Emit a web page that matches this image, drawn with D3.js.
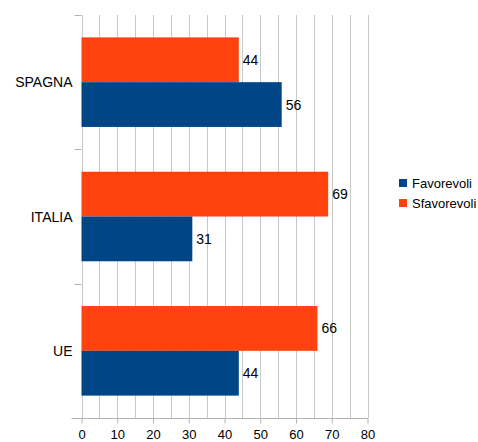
<!DOCTYPE html>
<html>
<head>
<meta charset="utf-8">
<script src="https://cdn.jsdelivr.net/npm/d3@7"></script>
<style>
  body { margin: 0; background: #fff; }
  text { font-family: "Liberation Sans", Arial, sans-serif; }
</style>
</head>
<body>
<div id="chart"></div>
<script>
var categories = ['SPAGNA', 'ITALIA', 'UE'];
var favorevoli = [56, 31, 44];
var sfavorevoli = [44, 69, 66];
var seriesNames = ['Favorevoli', 'Sfavorevoli'];
var xTicks = [0, 10, 20, 30, 40, 50, 60, 70, 80];

var svgWidth = 478;
var svgHeight = 442;
var plotLeft = 81.5, plotRight = 367.5, plotTop = 15, plotBottom = 418;

var svg = d3.select('#chart')
  .append('svg')
  .attr('width', svgWidth)
  .attr('height', svgHeight);

var xScale = d3.scaleLinear()
  .domain([0, 80])
  .range([plotLeft, plotRight]);

var yScale = d3.scaleBand()
  .domain(categories)
  .range([plotTop, plotBottom])
  .paddingInner(0)
  .paddingOuter(0);

var inner = d3.scaleBand()
  .domain(['Sfavorevoli', 'Favorevoli'])
  .range([0, yScale.bandwidth()])
  .paddingOuter(0.5)
  .paddingInner(0);

// vertical grid every 5
var grid = d3.range(0, 81, 5);
svg.append('g')
  .selectAll('line')
  .data(grid)
  .enter()
  .append('line')
  .attr('x1', d => Math.round(xScale(d)) + 0.5)
  .attr('x2', d => Math.round(xScale(d)) + 0.5)
  .attr('y1', plotTop)
  .attr('y2', plotBottom)
  .attr('stroke', '#c8c8c8')
  .attr('stroke-width', 1);

// category ticks on the left
var bounds = [0, 1, 2, 3].map(i => plotTop + i * yScale.bandwidth());
svg.append('g')
  .selectAll('line')
  .data(bounds)
  .enter()
  .append('line')
  .attr('x1', plotLeft - 7)
  .attr('x2', plotLeft)
  .attr('y1', d => Math.round(d) + 0.5)
  .attr('y2', d => Math.round(d) + 0.5)
  .attr('stroke', '#b3b3b3');

// bottom axis
var xAxis = svg.append('g')
  .attr('transform', 'translate(0,' + (plotBottom + 0.5) + ')')
  .call(d3.axisBottom(xScale).tickValues(xTicks).tickSize(5).tickSizeOuter(0));
xAxis.select('.domain').attr('stroke', '#b3b3b3').attr('d', 'M' + (plotLeft - 10) + ',0H' + (plotRight + 0.5));
xAxis.selectAll('.tick line').attr('stroke', '#b3b3b3');
xAxis.selectAll('.tick text')
  .attr('fill', '#000')
  .attr('font-size', '13px')
  .attr('y', 11)
  .attr('font-family', '"Liberation Sans", Arial, sans-serif');

// category labels
svg.append('g')
  .selectAll('text')
  .data(categories)
  .enter()
  .append('text')
  .attr('x', plotLeft - 9)
  .attr('y', d => yScale(d) + yScale.bandwidth() / 2 + 5)
  .attr('text-anchor', 'end')
  .attr('font-size', '14px')
  .text(d => d);

var colors = { Favorevoli: '#004586', Sfavorevoli: '#ff420e' };
var rows = [];
categories.forEach(function (c, i) {
  rows.push({ cat: c, series: 'Sfavorevoli', value: sfavorevoli[i] });
  rows.push({ cat: c, series: 'Favorevoli', value: favorevoli[i] });
});

svg.append('g')
  .selectAll('rect')
  .data(rows)
  .enter()
  .append('rect')
  .attr('x', xScale(0))
  .attr('y', d => yScale(d.cat) + inner(d.series))
  .attr('width', d => xScale(d.value) - xScale(0))
  .attr('height', inner.bandwidth())
  .attr('fill', d => colors[d.series]);

svg.append('g')
  .selectAll('text')
  .data(rows)
  .enter()
  .append('text')
  .attr('x', d => xScale(d.value) + 4)
  .attr('y', d => yScale(d.cat) + inner(d.series) + inner.bandwidth() / 2 + 5)
  .attr('font-size', '14px')
  .text(d => d.value);

// legend
var legend = svg.append('g');
seriesNames.forEach(function (s, i) {
  legend.append('rect')
    .attr('x', 399)
    .attr('y', 179 + i * 20)
    .attr('width', 8)
    .attr('height', 8)
    .attr('fill', colors[s]);
  legend.append('text')
    .attr('x', 412)
    .attr('y', 188 + i * 20)
    .attr('font-size', '13px')
    .text(s);
});
</script>
</body>
</html>
